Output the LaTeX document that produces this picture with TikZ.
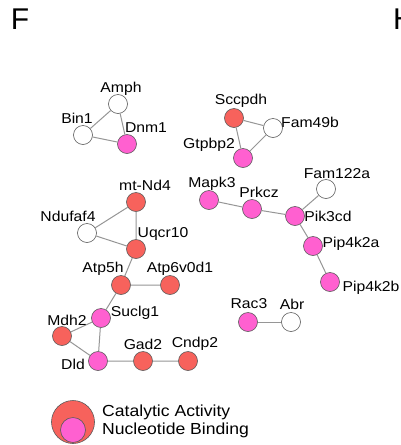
\documentclass[tikz,border=0pt]{standalone}
\usepackage{fontspec}
\usepackage{graphicx}
\setmainfont{Liberation Sans}
\definecolor{catred}{RGB}{247,98,92}
\definecolor{nucpink}{RGB}{255,96,208}
\definecolor{edgegray}{RGB}{150,150,150}
\definecolor{rimgray}{RGB}{90,90,90}
\tikzset{
  gene/.style={circle, draw=rimgray, line width=0.6pt, minimum size=19pt, inner sep=0pt},
  cat/.style={gene, fill=catred},
  nuc/.style={gene, fill=nucpink},
  none/.style={gene, fill=white},
  lbl/.style={inner sep=0pt, font=\fontsize{14.3}{14.3}\selectfont},
  leg/.style={inner sep=0pt, anchor=west, font=\fontsize{16}{16}\selectfont},
  link/.style={draw=edgegray, line width=1pt},
}
\newcommand{\wide}[1]{\scalebox{1.1}[1]{#1}}
\begin{document}
\begin{tikzpicture}[x=1pt,y=1pt]
\useasboundingbox (0,0) rectangle (401,-445);
\fill[white] (0,0) rectangle (401,-445);

% panel letters (the next panel's letter runs off the right edge)
\node[anchor=center, font=\fontsize{30}{30}\selectfont, inner sep=0pt] (panelF) at (20,-19) {F};
\node[anchor=west, font=\fontsize{30}{30}\selectfont, inner sep=0pt] (panelH) at (393,-19) {H};

% genes
\node[none] (amph) at (118,-104) {};
\node[none] (bin1) at (83,-135) {};
\node[nuc]  (dnm1) at (127,-144) {};

\node[cat]  (sccpdh) at (234,-118) {};
\node[none] (fam49b) at (273,-128) {};
\node[nuc]  (gtpbp2) at (243,-158) {};

\node[nuc]  (mapk3) at (209,-200) {};
\node[nuc]  (prkcz) at (252,-209) {};
\node[nuc]  (pik3cd) at (295,-216) {};
\node[none] (fam122a) at (326,-189) {};
\node[nuc]  (pip4k2a) at (313,-246) {};
\node[nuc]  (pip4k2b) at (330,-282) {};

\node[cat]  (mtnd4) at (136,-202) {};
\node[none] (ndufaf4) at (87,-233) {};
\node[cat]  (uqcr10) at (136,-249) {};
\node[cat]  (atp5h) at (121,-285) {};
\node[cat]  (atp6v0d1) at (170,-285) {};
\node[nuc]  (suclg1) at (101,-318) {};
\node[cat]  (mdh2) at (62,-336) {};
\node[nuc]  (dld) at (98,-361) {};
\node[cat]  (gad2) at (143,-361) {};
\node[cat]  (cndp2) at (188,-361) {};

\node[nuc]  (rac3) at (248,-322) {};
\node[none] (abr) at (291,-322) {};

% interactions
\path[link] (amph) -- (bin1) (amph) -- (dnm1) (bin1) -- (dnm1);
\path[link] (sccpdh) -- (fam49b) (sccpdh) -- (gtpbp2) (fam49b) -- (gtpbp2);
\path[link] (mapk3) -- (prkcz) (prkcz) -- (pik3cd) (pik3cd) -- (fam122a)
            (pik3cd) -- (pip4k2a) (pip4k2a) -- (pip4k2b);
\path[link] (mtnd4) -- (ndufaf4) (mtnd4) -- (uqcr10) (ndufaf4) -- (uqcr10)
            (uqcr10) -- (atp5h) (atp5h) -- (atp6v0d1) (atp5h) -- (suclg1)
            (suclg1) -- (mdh2) (suclg1) -- (dld) (mdh2) -- (dld)
            (dld) -- (gad2) (gad2) -- (cndp2);
\path[link] (rac3) -- (abr);

% gene names
\node[lbl] (tamph) at (121,-89) {\wide{Amph}};
\node[lbl] (tbin1) at (77,-118) {\wide{Bin1}};
\node[lbl] (tdnm1) at (146,-128) {\wide{Dnm1}};
\node[lbl] (tsccpdh) at (241,-101) {\wide{Sccpdh}};
\node[lbl] (tfam49b) at (310,-122) {\wide{Fam49b}};
\node[lbl] (tgtpbp2) at (209,-145) {\wide{Gtpbp2}};
\node[lbl] (tmapk3) at (212,-184) {\wide{Mapk3}};
\node[lbl] (tprkcz) at (259,-192) {\wide{Prkcz}};
\node[lbl] (tfam122a) at (337,-174) {\wide{Fam122a}};
\node[lbl] (tpik3cd) at (328,-216) {\wide{Pik3cd}};
\node[lbl] (tpip4k2a) at (351,-244) {\wide{Pip4k2a}};
\node[lbl] (tpip4k2b) at (371,-288) {\wide{Pip4k2b}};
\node[lbl] (tmtnd4) at (145,-185) {\wide{mt-Nd4}};
\node[lbl] (tndufaf4) at (68,-216) {\wide{Ndufaf4}};
\node[lbl] (tuqcr10) at (163,-234) {\wide{Uqcr10}};
\node[lbl] (tatp5h) at (103,-269) {\wide{Atp5h}};
\node[lbl] (tatp6v0d1) at (180,-269) {\wide{Atp6v0d1}};
\node[lbl] (tsuclg1) at (135,-313) {\wide{Suclg1}};
\node[lbl] (tmdh2) at (67,-320) {\wide{Mdh2}};
\node[lbl] (tdld) at (73,-364) {\wide{Dld}};
\node[lbl] (tgad2) at (143,-344) {\wide{Gad2}};
\node[lbl] (tcndp2) at (195,-344) {\wide{Cndp2}};
\node[lbl] (trac3) at (249,-304) {\wide{Rac3}};
\node[lbl] (tabr) at (292,-304) {\wide{Abr}};

% legend
\node[circle, draw=rimgray, line width=0.6pt, fill=catred, minimum size=43pt, inner sep=0pt] (legcat) at (73,-422) {};
\node[circle, draw=rimgray, line width=0.6pt, fill=nucpink, minimum size=25pt, inner sep=0pt] (legnuc) at (73,-430) {};
\node[leg] (tlegcat) at (102,-412) {\wide{Catalytic Activity}};
\node[leg] (tlegnuc) at (102,-430) {\wide{Nucleotide Binding}};
\end{tikzpicture}
\end{document}
